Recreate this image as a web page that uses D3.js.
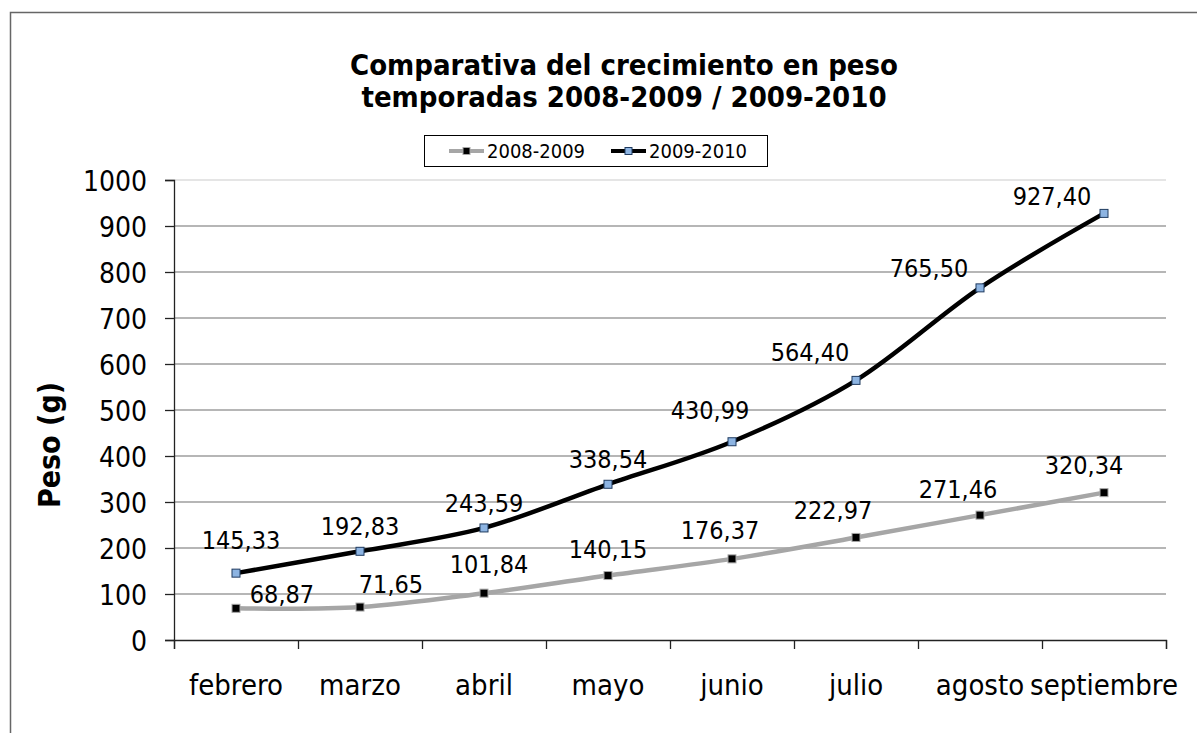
<!DOCTYPE html>
<html>
<head>
<meta charset="utf-8">
<script src="https://cdn.jsdelivr.net/npm/d3@7"></script>
<style>
  html, body { margin: 0; padding: 0; background: #fff; }
  svg { display: block; }
  text { font-family: "DejaVu Sans Condensed", "DejaVu Sans", sans-serif; fill: #000; }
</style>
</head>
<body>
<svg id="chart" width="1197" height="733"></svg>
<script>
// ---- data ----
const categories = ["febrero", "marzo", "abril", "mayo", "junio", "julio", "agosto", "septiembre"];
const series2008 = [68.87, 71.65, 101.84, 140.15, 176.37, 222.97, 271.46, 320.34];
const series2009 = [145.33, 192.83, 243.59, 338.54, 430.99, 564.40, 765.50, 927.40];
const seriesNames = ["2008-2009", "2009-2010"];
const yTicks = [0, 100, 200, 300, 400, 500, 600, 700, 800, 900, 1000];
const titleLines = ["Comparativa del crecimiento en peso", "temporadas 2008-2009 / 2009-2010"];
const yAxisTitle = "Peso (g)";

// label placement offsets (layout only)
const labelOffsets2008 = [[46,-5],[31,-14],[5,-20],[0,-18],[-12,-20],[-23,-18],[-22,-17],[-20,-19]];
const labelOffsets2009 = [[5,-24],[0,-16],[0,-16],[0,-16],[-22,-23],[-46,-19],[-51,-11],[-52,-8]];

(function () {
const svg = d3.select("#chart");
const pLeft = 174, pRight = 1166, pTop = 180, pBottom = 640;
const FONT = '"DejaVu Sans Condensed", "DejaVu Sans", sans-serif';

const x = d3.scaleBand().domain(categories).range([pLeft, pRight]).paddingInner(0).paddingOuter(0);
const xEdge = d3.scaleLinear().domain([0, categories.length]).range([pLeft, pRight]);
const y = d3.scaleLinear().domain([0, 1000]).range([pBottom, pTop]);
const cx = c => x(c) + x.bandwidth() / 2;

// outer border (chart area)
svg.append("path").attr("d", `M10.5,733 L10.5,12.5 L1197,12.5`)
  .attr("fill", "none").attr("stroke", "#666").attr("stroke-width", 1.5);

// gridlines
svg.append("g").selectAll("line").data(yTicks.filter(d => d > 0)).join("line")
  .attr("x1", pLeft).attr("x2", pRight)
  .attr("y1", d => y(d)).attr("y2", d => y(d))
  .attr("stroke", d => d === 1000 ? "#dcdcdc" : "#9e9e9e").attr("stroke-width", 1.4);

// y axis
const yAxis = svg.append("g").attr("transform", `translate(${pLeft},0)`)
  .call(d3.axisLeft(y).tickValues(yTicks).tickSize(9).tickPadding(18).tickFormat(d3.format("d")));
yAxis.select(".domain").attr("stroke", "#222").attr("stroke-width", 1.3);
yAxis.selectAll(".tick line").attr("stroke", "#222").attr("stroke-width", 1.3);
yAxis.selectAll("text").attr("font-size", 28).attr("font-family", FONT).attr("dy", "0.36em").attr("fill", "#000");

// x axis ticks at band edges
const xAxis = svg.append("g").attr("transform", `translate(0,${pBottom})`)
  .call(d3.axisBottom(xEdge).tickValues(d3.range(categories.length + 1)).tickSize(9).tickFormat(""));
xAxis.select(".domain").attr("stroke", "#222").attr("stroke-width", 1.3);
xAxis.selectAll(".tick line").attr("stroke", "#222").attr("stroke-width", 1.3);

// category labels
const xLab = svg.append("g").attr("transform", `translate(0,${pBottom})`)
  .call(d3.axisBottom(x).tickSize(0).tickPadding(0));
xLab.select(".domain").remove();
xLab.selectAll("text").attr("font-size", 29).attr("font-family", FONT)
  .attr("fill", "#000").attr("dy", null).attr("y", 55);

// lines
const line = d3.line().x((d, i) => cx(categories[i])).y(d => y(d)).curve(d3.curveCatmullRom.alpha(0));
svg.append("path").datum(series2008).attr("d", line)
  .attr("fill", "none").attr("stroke", "#a6a6a6").attr("stroke-width", 4.5).attr("stroke-linejoin", "round");
svg.append("path").datum(series2009).attr("d", line)
  .attr("fill", "none").attr("stroke", "#000").attr("stroke-width", 4.5).attr("stroke-linejoin", "round");

// markers
const ms = 8;
svg.append("g").selectAll("rect").data(series2008).join("rect")
  .attr("x", (d, i) => cx(categories[i]) - ms / 2).attr("y", d => y(d) - ms / 2)
  .attr("width", ms).attr("height", ms).attr("fill", "#000").attr("stroke", "#a6a6a6").attr("stroke-width", 1);
svg.append("g").selectAll("rect").data(series2009).join("rect")
  .attr("x", (d, i) => cx(categories[i]) - ms / 2).attr("y", d => y(d) - ms / 2)
  .attr("width", ms).attr("height", ms).attr("fill", "#8db4e2").attr("stroke", "#1f3a5f").attr("stroke-width", 1);

// data labels
const fmt = v => d3.format(".2f")(v).replace(".", ",");
function labels(data, offs) {
  svg.append("g").selectAll("text").data(data).join("text")
    .attr("x", (d, i) => cx(categories[i]) + offs[i][0])
    .attr("y", (d, i) => y(d) + offs[i][1])
    .attr("text-anchor", "middle").attr("font-size", 25).text(d => fmt(d));
}
labels(series2008, labelOffsets2008);
labels(series2009, labelOffsets2009);

// title
svg.append("g").selectAll("text").data(titleLines).join("text")
  .attr("x", 624).attr("y", (d, i) => 75 + i * 32)
  .attr("text-anchor", "middle").attr("font-size", 29).attr("font-weight", "bold").text(d => d);

// y axis title
svg.append("text").attr("transform", `translate(60,445) rotate(-90)`)
  .attr("text-anchor", "middle").attr("font-size", 30).attr("font-weight", "bold").text(yAxisTitle);

// legend
const lg = svg.append("g");
lg.append("rect").attr("x", 424.5).attr("y", 135.5).attr("width", 343).attr("height", 31)
  .attr("fill", "#fff").attr("stroke", "#000").attr("stroke-width", 1);
const legendItems = [
  { name: seriesNames[0], x0: 449, stroke: "#a6a6a6", fill: "#000", mstroke: "#a6a6a6" },
  { name: seriesNames[1], x0: 611, stroke: "#000", fill: "#8db4e2", mstroke: "#1f3a5f" }
];
legendItems.forEach(it => {
  lg.append("line").attr("x1", it.x0).attr("x2", it.x0 + 35).attr("y1", 151).attr("y2", 151)
    .attr("stroke", it.stroke).attr("stroke-width", 4);
  lg.append("rect").attr("x", it.x0 + 17.5 - 3.5).attr("y", 151 - 3.5).attr("width", 7).attr("height", 7)
    .attr("fill", it.fill).attr("stroke", it.mstroke).attr("stroke-width", 1);
  lg.append("text").attr("x", it.x0 + 38).attr("y", 158).attr("font-size", 20).text(it.name);
});
})();
</script>
</body>
</html>
